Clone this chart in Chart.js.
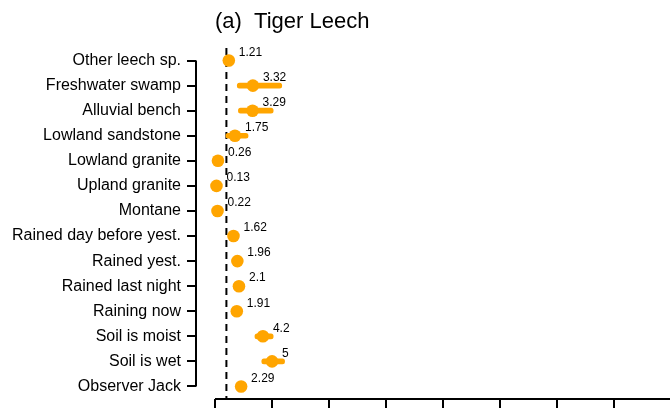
<!DOCTYPE html>
<html>
<head>
<meta charset="utf-8">
<script src="https://cdn.jsdelivr.net/npm/chart.js@4.4.1/dist/chart.umd.min.js"></script>
<style>
  html, body { margin: 0; padding: 0; background: #fff; overflow: hidden; }
</style>
</head>
<body>
<canvas id="forest" width="670" height="409"></canvas>
<script>
const categories = ['Other leech sp.', 'Freshwater swamp', 'Alluvial bench', 'Lowland sandstone',
    'Lowland granite', 'Upland granite', 'Montane', 'Rained day before yest.', 'Rained yest.',
    'Rained last night', 'Raining now', 'Soil is moist', 'Soil is wet', 'Observer Jack'];
const estimates = [1.21, 3.32, 3.29, 1.75, 0.26, 0.13, 0.22, 1.62, 1.96, 2.1, 1.91, 4.2, 5, 2.29];
const ciLow  = [null, 1.95, 2.05, 0.95, null, null, null, null, null, null, null, 3.5, 4.1, null];
const ciHigh = [null, 5.85, 5.1, 2.9, null, null, null, null, null, null, null, 5.1, 6.1, null];
const refLine = 1;
const titleText = '(a)  Tiger Leech';

const FONT = "'Liberation Sans', Arial, sans-serif";

// R-style extras: dashed line at 1, detached axis lines, value labels, title
const decorations = {
    id: 'decorations',
    beforeDatasetsDraw(chart) {
        const { ctx, chartArea, scales: { x, y } } = chart;
        ctx.save();
        ctx.strokeStyle = '#000';
        ctx.lineWidth = 2;
        ctx.setLineDash([7, 5]);
        const xr = x.getPixelForValue(refLine);
        ctx.beginPath();
        ctx.moveTo(xr, chartArea.top);
        ctx.lineTo(xr, chartArea.bottom);
        ctx.stroke();
        ctx.setLineDash([]);
        ctx.beginPath();
        ctx.moveTo(chartArea.left, y.getPixelForValue(0));
        ctx.lineTo(chartArea.left, y.getPixelForValue(categories.length - 1));
        ctx.moveTo(x.getPixelForValue(0), chartArea.bottom);
        ctx.lineTo(chartArea.right, chartArea.bottom);
        ctx.stroke();
        ctx.restore();
    },
    afterDatasetsDraw(chart) {
        const { ctx } = chart;
        const pts = chart.getDatasetMeta(0).data;
        ctx.save();
        ctx.font = '12px ' + FONT;
        ctx.fillStyle = '#000';
        ctx.textAlign = 'left';
        ctx.textBaseline = 'middle';
        pts.forEach((p, i) => {
            ctx.fillText(String(estimates[i]), p.x + 10, p.y - 8);
        });
        ctx.font = '22px ' + FONT;
        ctx.textBaseline = 'alphabetic';
        ctx.fillText(titleText, 215, 28);
        ctx.restore();
    }
};

new Chart(document.getElementById('forest'), {
    type: 'scatter',
    data: {
        labels: categories,
        datasets: [{
            type: 'scatter',
            data: categories.map((c, i) => ({ x: estimates[i], y: c })),
            pointRadius: 6.3,
            pointHoverRadius: 6.3,
            backgroundColor: 'orange',
            borderWidth: 0,
            order: 0
        }, {
            type: 'bar',
            indexAxis: 'y',
            data: categories.map((c, i) => ciLow[i] == null ? null : [ciLow[i], ciHigh[i]]),
            backgroundColor: 'orange',
            barThickness: 5,
            borderRadius: 2.5,
            borderSkipped: false,
            order: 1
        }]
    },
    options: {
        responsive: false,
        animation: false,
        events: [],
        layout: { autoPadding: false, padding: { top: 48, left: 0, right: 0, bottom: 0 } },
        plugins: {
            legend: { display: false },
            tooltip: { enabled: false },
            title: { display: false }
        },
        scales: {
            x: {
                type: 'linear',
                position: 'bottom',
                min: -1.665,
                max: 39.88,
                border: { display: false },
                grid: { drawOnChartArea: false, color: '#000', lineWidth: 2, tickLength: 9 },
                ticks: { stepSize: 5, includeBounds: false, display: false },
                afterFit(s) { s.height = 10; s.paddingLeft = 0; s.paddingRight = 0; }
            },
            y: {
                type: 'category',
                position: 'left',
                offset: true,
                border: { display: false },
                grid: { drawOnChartArea: false, offset: false, color: '#000', lineWidth: 2, tickLength: 9 },
                ticks: { autoSkip: false, padding: 6, color: '#000', font: { family: FONT, size: 16 } },
                afterFit(s) { s.width = 196; s.paddingTop = 0; s.paddingBottom = 0; }
            }
        }
    },
    plugins: [decorations]
});
</script>
</body>
</html>
